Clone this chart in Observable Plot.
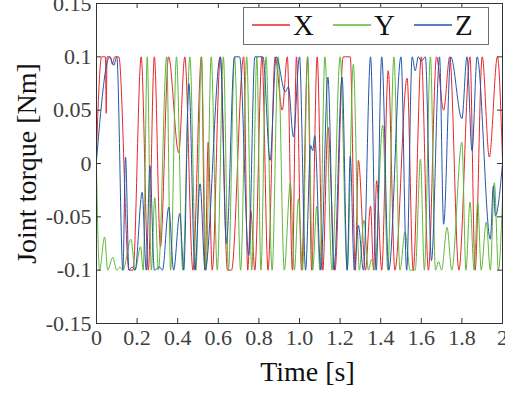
<!DOCTYPE html>
<html>
<head>
<meta charset="utf-8">
<script src="https://cdn.jsdelivr.net/npm/d3@7"></script>
<script src="https://cdn.jsdelivr.net/npm/@observablehq/plot@0.6"></script>
<style>
  html, body { margin: 0; padding: 0; background: #fff; }
  #chart { width: 505px; height: 394px; }
</style>
</head>
<body>
<div id="chart"></div>
<script>
// ---- data (turning points of each joint torque) ----
const seriesNames = ["X", "Y", "Z"];
const seriesColors = ["#e8262b", "#5fb83a", "#2656a8"];

const xTime = [0, 0.025, 0.044, 0.048, 0.052, 0.068, 0.078, 0.09, 0.11, 0.16, 0.18, 0.22, 0.255, 0.285, 0.315, 0.355, 0.405, 0.435, 0.475, 0.517, 0.535, 0.55, 0.57, 0.61, 0.645, 0.665, 0.725, 0.745, 0.76, 0.78, 0.815, 0.845, 0.88, 0.915, 0.94, 0.965, 0.985, 1.01, 1.04, 1.06, 1.087, 1.115, 1.14, 1.175, 1.215, 1.25, 1.275, 1.29, 1.325, 1.35, 1.365, 1.38, 1.405, 1.437, 1.47, 1.53, 1.56, 1.6, 1.635, 1.675, 1.71, 1.74, 1.785, 1.84, 1.865, 1.9, 1.935, 1.975, 2.0];
const xTorque = [0.012, 0.1, 0.1, 0.047, 0.1, 0.1, 0.093, 0.1, 0.1, -0.1, -0.1, 0.1, -0.1, 0.1, -0.078, 0.1, 0.01, 0.1, -0.1, 0.1, -0.1, 0.02, -0.1, 0.1, -0.1, -0.1, 0.1, -0.1, -0.044, -0.1, 0.1, -0.1, 0.1, 0.05, 0.1, -0.1, 0.1, -0.1, 0.1, -0.1, 0.1, -0.1, 0.034, -0.1, 0.1, 0.1, -0.1, 0.003, -0.1, -0.04, -0.1, -0.016, -0.1, 0.087, -0.1, 0.08, -0.1, 0.1, -0.1, 0.1, 0.05, 0.1, -0.1, 0.1, -0.1, 0.1, 0.006, 0.1, 0.003];

const yTime = [0, 0.015, 0.04, 0.055, 0.08, 0.1, 0.115, 0.13, 0.17, 0.19, 0.217, 0.23, 0.25, 0.27, 0.287, 0.305, 0.346, 0.365, 0.394, 0.425, 0.46, 0.49, 0.517, 0.54, 0.565, 0.595, 0.625, 0.65, 0.68, 0.71, 0.74, 0.765, 0.79, 0.81, 0.835, 0.865, 0.895, 0.925, 0.955, 0.975, 0.995, 1.015, 1.04, 1.065, 1.085, 1.1, 1.125, 1.16, 1.2, 1.235, 1.265, 1.295, 1.317, 1.34, 1.355, 1.37, 1.41, 1.435, 1.465, 1.495, 1.52, 1.545, 1.57, 1.596, 1.615, 1.645, 1.67, 1.685, 1.7, 1.727, 1.75, 1.8, 1.82, 1.84, 1.86, 1.878, 1.895, 1.92, 1.94, 1.96, 1.98, 2.0];
const yTorque = [-0.005, -0.1, -0.069, -0.1, -0.088, -0.1, -0.097, -0.1, -0.071, -0.1, -0.078, -0.1, 0.1, -0.1, -0.032, -0.1, 0.1, -0.1, 0.1, -0.1, 0.1, -0.1, 0.1, -0.1, 0.1, -0.1, 0.1, -0.1, 0.1, -0.1, 0.1, -0.1, 0.1, -0.1, 0.1, -0.1, 0.1, -0.1, -0.018, -0.1, -0.033, -0.1, 0.1, -0.1, -0.04, -0.1, 0.1, -0.1, 0.1, -0.1, 0.093, -0.1, -0.053, -0.1, -0.09, -0.1, 0.036, -0.1, 0.1, -0.1, -0.064, -0.1, -0.1, 0.004, -0.1, 0.1, -0.1, -0.092, -0.1, -0.06, -0.1, 0.02, -0.1, -0.036, -0.1, -0.036, -0.1, -0.055, -0.1, -0.018, -0.1, -0.033];

const zTime = [0, 0.065, 0.085, 0.1, 0.13, 0.143, 0.16, 0.175, 0.19, 0.225, 0.245, 0.263, 0.285, 0.31, 0.325, 0.356, 0.38, 0.41, 0.43, 0.455, 0.485, 0.51, 0.535, 0.61, 0.64, 0.68, 0.705, 0.75, 0.78, 0.82, 0.855, 0.885, 0.93, 0.945, 0.97, 1.0, 1.03, 1.055, 1.065, 1.075, 1.105, 1.14, 1.17, 1.21, 1.235, 1.25, 1.27, 1.29, 1.315, 1.35, 1.378, 1.405, 1.44, 1.5, 1.528, 1.555, 1.57, 1.585, 1.6, 1.62, 1.65, 1.69, 1.71, 1.745, 1.8, 1.825, 1.85, 1.875, 1.94, 1.955, 1.965, 2.0];
const zTorque = [0.003, 0.1, 0.092, 0.1, -0.1, 0.006, -0.1, -0.097, -0.1, -0.027, -0.1, -0.002, -0.1, -0.097, -0.1, -0.041, -0.1, -0.047, -0.1, 0.075, -0.1, -0.019, -0.1, 0.1, -0.075, 0.1, 0.1, -0.086, 0.1, 0.1, 0.003, 0.1, 0.067, 0.072, 0.025, 0.1, -0.1, 0.017, 0.012, 0.026, -0.1, 0.081, -0.1, 0.081, -0.1, 0.007, -0.1, -0.058, -0.1, 0.1, -0.1, 0.1, -0.1, 0.1, -0.1, 0.1, 0.087, 0.1, 0.096, 0.1, -0.091, 0.1, -0.057, 0.1, 0.042, 0.1, 0.012, 0.1, -0.071, -0.021, -0.049, 0.0];

const xTicks = [0, 0.2, 0.4, 0.6, 0.8, 1.0, 1.2, 1.4, 1.6, 1.8, 2];
const xTickLabels = ["0", "0.2", "0.4", "0.6", "0.8", "1.0", "1.2", "1.4", "1.6", "1.8", "2"];
const yTicks = [-0.15, -0.1, -0.05, 0, 0.05, 0.1, 0.15];
const yTickLabels = ["-0.15", "-0.1", "-0.05", "0", "0.05", "0.1", "0.15"];
const xLabel = "Time [s]";
const yLabel = "Joint torque [Nm]";

// ---- build table ----
const rows = [];
[[xTime, xTorque], [yTime, yTorque], [zTime, zTorque]].forEach(([ts, vs], k) => {
  ts.forEach((t, i) => rows.push({s: seriesNames[k], t, v: vs[i]}));
});
const xFmt = new Map(xTicks.map((d, i) => [d, xTickLabels[i]]));
const yFmt = new Map(yTicks.map((d, i) => [d, yTickLabels[i]]));

const W = 505, H = 394, ML = 96, MR = 3, MT = 3, MB = 71;
const PW = W - ML - MR, PH = H - MT - MB, TK = 5;
const font = "'Liberation Serif', 'Times New Roman', serif";
const axisColor = "#333";

const chart = Plot.plot({
  width: W, height: H,
  marginLeft: ML, marginRight: MR, marginTop: MT, marginBottom: MB,
  style: {fontFamily: font, fontSize: "22px", background: "#fff", color: axisColor, overflow: "visible"},
  x: {domain: [0, 2]},
  y: {domain: [-0.15, 0.15]},
  color: {domain: seriesNames, range: seriesColors},
  marks: [
    Plot.line(rows, {x: "t", y: "v", z: "s", stroke: "s", strokeWidth: 1, curve: "monotone-x"}),
    Plot.tickX(xTicks, {x: d => d, insetTop: PH - TK, stroke: axisColor}),
    Plot.tickX(xTicks, {x: d => d, insetBottom: PH - TK, stroke: axisColor}),
    Plot.tickY(yTicks, {y: d => d, insetRight: PW - TK, stroke: axisColor}),
    Plot.tickY(yTicks, {y: d => d, insetLeft: PW - TK, stroke: axisColor}),
    Plot.frame({stroke: axisColor}),
    Plot.axisX(xTicks, {tickSize: 0, tickPadding: 6, tickFormat: d => xFmt.get(d), label: null, fill: "#404040"}),
    Plot.axisY(yTicks, {tickSize: 0, tickPadding: 5, tickFormat: d => yFmt.get(d), label: null, fill: "#404040"}),
    Plot.text([xLabel], {text: d => d, frameAnchor: "bottom", lineAnchor: "middle", textAnchor: "middle", dy: 49, dx: 8, fontSize: 28, fill: "#111"}),
    Plot.text([yLabel], {text: d => d, frameAnchor: "left", lineAnchor: "middle", textAnchor: "middle", rotate: -90, dx: -69, fontSize: 28, fill: "#111"})
  ]
});
document.getElementById("chart").appendChild(chart);

// ---- legend (inside the axes, top right) ----
const svgNS = "http://www.w3.org/2000/svg";
const lg = document.createElementNS(svgNS, "g");
lg.setAttribute("font-family", font);
lg.setAttribute("font-size", "29");
lg.setAttribute("text-anchor", "start");
chart.appendChild(lg);
const box = document.createElementNS(svgNS, "rect");
Object.entries({x: 243.5, y: 7.5, width: 245, height: 37, fill: "#ffffff", stroke: "#6e6e6e", "stroke-width": 1})
  .forEach(([k, v]) => box.setAttribute(k, v));
lg.appendChild(box);
const itemX = [252, 333, 414];
seriesNames.forEach((name, i) => {
  const ln = document.createElementNS(svgNS, "line");
  Object.entries({x1: itemX[i], x2: itemX[i] + 38, y1: 25, y2: 25, stroke: seriesColors[i], "stroke-width": 1.5})
    .forEach(([k, v]) => ln.setAttribute(k, v));
  lg.appendChild(ln);
  const tx = document.createElementNS(svgNS, "text");
  Object.entries({x: itemX[i] + 41, y: 35, fill: "#111", "text-anchor": "start"})
    .forEach(([k, v]) => tx.setAttribute(k, v));
  tx.textContent = name;
  lg.appendChild(tx);
});
</script>
</body>
</html>
